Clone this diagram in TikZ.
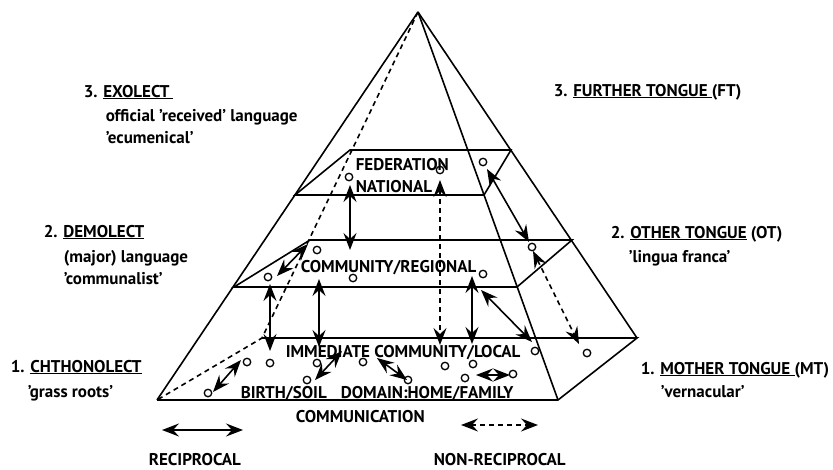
\documentclass[tikz,border=0pt]{standalone}
\usepackage{fontspec}
\setmainfont{PT Sans}
\usetikzlibrary{arrows.meta}

\begin{document}
\begin{tikzpicture}[x=1pt,y=-1pt,line width=1.6pt,
  >={Stealth[length=17pt,width=13pt,inset=6pt]},
  lbl/.style={anchor=base west,inner sep=0pt,font=\fontsize{17}{20}\selectfont\bfseries},
  spot/.style={circle,draw,line width=1.3pt,inner sep=0pt,minimum size=7.5pt},
  hidden/.style={dash pattern=on 5pt off 4pt},
  both/.style={<->}]
\useasboundingbox (0,0) rectangle (833,469);

% pyramid corners
\coordinate (apex) at (418,12);
\coordinate (fl) at (157,400);
\coordinate (fr) at (558,400);
\coordinate (br) at (637,338);
\coordinate (bl) at (262,338);
% upper slab
\coordinate (sAfl) at (295,195);
\coordinate (sAfr) at (484,195);
\coordinate (sAbr) at (511,150);
\coordinate (sAbl) at (350,150);
% middle slab
\coordinate (sBfl) at (234,287);
\coordinate (sBfr) at (517,287);
\coordinate (sBbr) at (572,240);
\coordinate (sBbl) at (310,240);

\draw (apex) -- (fl);
\draw (apex) -- (fr);
\draw (apex) -- (br);
\draw (fl) -- (fr) -- (br) -- (bl);
\draw[hidden] (apex) -- (bl) -- (fl);
\draw (sAfl) -- (sAfr) -- (sAbr) -- (sAbl) -- cycle;
\draw (sBfl) -- (sBfr) -- (sBbr) -- (sBbl) -- cycle;

% level texts
\node[lbl] (fed) at (355,170) {FEDERATION};
\node[lbl] (nat) at (355,192) {NATIONAL};
\node[lbl] (reg) at (300,272) {COMMUNITY/REGIONAL};
\node[lbl] (loc) at (285,357) {IMMEDIATE COMMUNITY/LOCAL};
\node[lbl] (soil) at (240,398) {BIRTH/SOIL};
\node[lbl] (home) at (340,398) {DOMAIN:HOME/FAMILY};
\node[lbl] (comm) at (295,422) {COMMUNICATION};

% left side
\node[lbl] (exo) at (83,97) {3. \underline{EXOLECT\hspace{4pt}}};
\node[lbl] (exoa) at (105,121) {official 'received' language};
\node[lbl] (exob) at (105,143) {'ecumenical'};
\node[lbl] (demo) at (43,237) {2. \underline{DEMOLECT}};
\node[lbl] (demoa) at (63,262) {(major) language};
\node[lbl] (demob) at (63,284) {'communalist'};
\node[lbl] (chth) at (10,372) {1. \underline{CHTHONOLECT}};
\node[lbl] (chtha) at (27,397) {'grass roots'};

% right side
\node[lbl] (ft) at (553,96) {3. \underline{FURTHER TONGUE }(FT)};
\node[lbl] (ot) at (610,238) {2. \underline{OTHER TONGUE} (OT)};
\node[lbl] (ota) at (628,262) {'lingua franca'};
\node[lbl] (mt) at (640,374) {1. \underline{MOTHER TONGUE }(MT)};
\node[lbl] (mta) at (660,397) {'vernacular'};

% speakers
\node[spot] (p1) at (349,177) {};
\node[spot] (p2) at (440,170) {};
\node[spot] (p3) at (483,162) {};
\node[spot] (p4) at (532,247) {};
\node[spot] (p5) at (587,353) {};
\node[spot] (p6) at (317,250) {};
\node[spot] (p7) at (353,278) {};
\node[spot] (p8) at (483,274) {};
\node[spot] (p9) at (268,277) {};
\node[spot] (p10) at (247,362) {};
\node[spot] (p11) at (270,363) {};
\node[spot] (p12) at (317,363) {};
\node[spot] (p13) at (307,380) {};
\node[spot] (p14) at (363,362) {};
\node[spot] (p15) at (408,380) {};
\node[spot] (p16) at (445,366) {};
\node[spot] (p17) at (473,364) {};
\node[spot] (p18) at (465,378) {};
\node[spot] (p19) at (513,374) {};
\node[spot] (p20) at (535,351) {};
\node[spot] (p21) at (208,393) {};

% arrow ends
\coordinate (a1) at (350,185);  \coordinate (b1) at (350,250);
\coordinate (a2) at (440,180);  \coordinate (b2) at (440,345);
\coordinate (a3) at (487,169);  \coordinate (b3) at (529,242);
\coordinate (a4) at (533,251);  \coordinate (b4) at (579,344);
\coordinate (a5) at (277,276);  \coordinate (b5) at (308,244);
\coordinate (a6) at (270,284);  \coordinate (b6) at (270,351);
\coordinate (a7) at (319,279);  \coordinate (b7) at (319,347);
\coordinate (a8) at (472,276);  \coordinate (b8) at (472,344);
\coordinate (a9) at (481,290);  \coordinate (b9) at (532,342);
\coordinate (a10) at (213,392); \coordinate (b10) at (241,360);
\coordinate (a11) at (315,380); \coordinate (b11) at (342,351);
\coordinate (a12) at (377,358); \coordinate (b12) at (407,380);
\coordinate (a13) at (476,375); \coordinate (b13) at (510,375);

\draw[both] (a1) -- (b1);
\draw[both,hidden] (a2) -- (b2);
\draw[both] (a3) -- (b3);
\draw[both,hidden] (a4) -- (b4);
\draw[both] (a5) -- (b5);
\draw[both] (a6) -- (b6);
\draw[both] (a7) -- (b7);
\draw[both] (a8) -- (b8);
\draw[both] (a9) -- (b9);
\draw[both] (a10) -- (b10);
\draw[both] (a11) -- (b11);
\draw[both] (a12) -- (b12);
\draw[both] (a13) -- (b13);

% key
\coordinate (ka) at (162,430); \coordinate (kb) at (243,430);
\coordinate (kc) at (461,425); \coordinate (kd) at (538,425);
\draw[both] (ka) -- (kb);
\draw[both,hidden] (kc) -- (kd);
\node[lbl] (recip) at (148,465) {RECIPROCAL};
\node[lbl] (nonrecip) at (433,465) {NON-RECIPROCAL};

\end{tikzpicture}
\end{document}
